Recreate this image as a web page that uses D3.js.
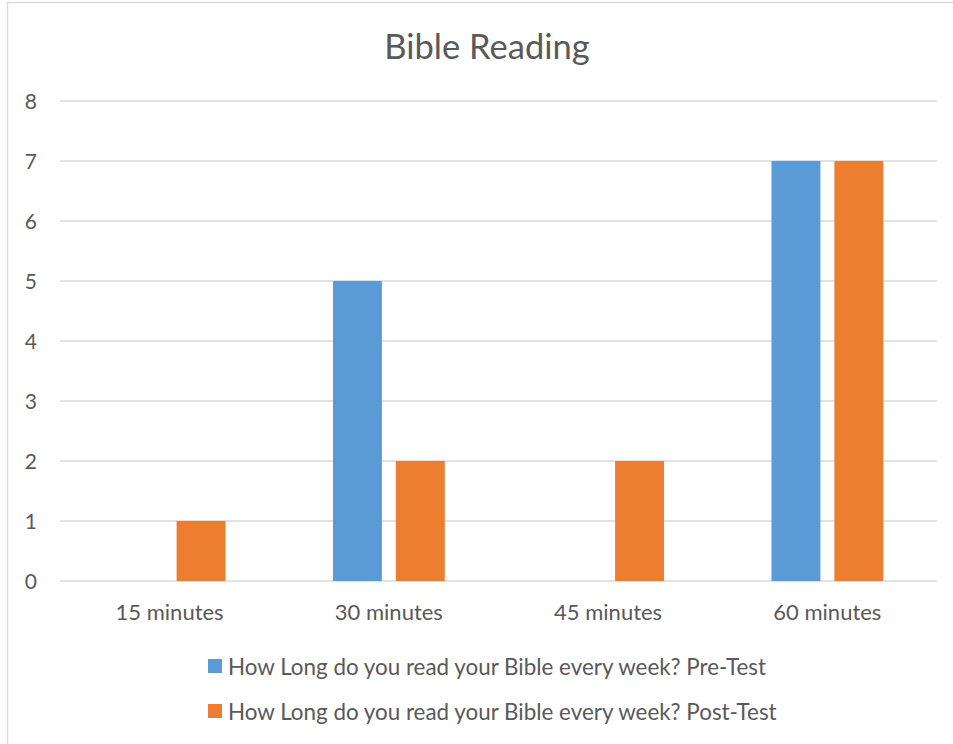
<!DOCTYPE html>
<html>
<head>
<meta charset="utf-8">
<script src="https://cdn.jsdelivr.net/npm/d3@7"></script>
<style>
  body { margin: 0; background: #fff; }
  text { font-family: Lato, "Open Sans", sans-serif; fill: #595959; }
</style>
</head>
<body>
<div id="viz"></div>
<script>
var categories = ["15 minutes", "30 minutes", "45 minutes", "60 minutes"];
var series = ["How Long do you read your Bible every week? Pre-Test", "How Long do you read your Bible every week? Post-Test"];
var preTest = [0, 5, 0, 7];
var postTest = [1, 2, 2, 7];
var yTicks = [0, 1, 2, 3, 4, 5, 6, 7, 8];

var color = ["#5B9BD5", "#ED7D31"];
var values = [preTest, postTest];

var width = 953, height = 744;
var svg = d3.select("#viz").append("svg").attr("width", width).attr("height", height);

// chart border (right and bottom run off the picture)
svg.append("rect")
    .attr("x", 7.5).attr("y", 2.5)
    .attr("width", 960).attr("height", 760)
    .attr("fill", "none")
    .attr("stroke", "#D9D9D9")
    .attr("stroke-width", 1.5);

var plotLeft = 60, plotRight = 937, plotTop = 101, plotBottom = 581;

var x = d3.scaleBand().domain(categories).range([plotLeft, plotRight]);
var bw = x.bandwidth();
var xInner = d3.scaleBand().domain([0, 1])
    .range([bw * 0.245, bw * 0.755])
    .paddingInner(0.222);

var y = d3.scaleLinear().domain([0, 8]).range([plotBottom, plotTop]);

// gridlines
svg.append("g").selectAll("line")
  .data(yTicks)
  .enter().append("line")
    .attr("x1", plotLeft).attr("x2", plotRight)
    .attr("y1", function(d){ return y(d); })
    .attr("y2", function(d){ return y(d); })
    .attr("stroke", "#D9D9D9")
    .attr("stroke-width", 1.3);

// y labels
svg.append("g").selectAll("text")
  .data(yTicks)
  .enter().append("text")
    .attr("x", 37)
    .attr("y", function(d){ return y(d); })
    .attr("dy", "0.38em")
    .attr("text-anchor", "end")
    .style("font-size", "21px")
    .text(function(d){ return d; });

// bars
values.forEach(function(vals, s){
  svg.append("g").selectAll("rect")
    .data(vals)
    .enter().append("rect")
      .attr("x", function(d, i){ return x(categories[i]) + xInner(s); })
      .attr("y", function(d){ return y(d); })
      .attr("width", xInner.bandwidth())
      .attr("height", function(d){ return y(0) - y(d); })
      .attr("fill", color[s]);
});

// x labels
svg.append("g").selectAll("text")
  .data(categories)
  .enter().append("text")
    .attr("x", function(d){ return x(d) + bw / 2; })
    .attr("y", 619.5)
    .attr("text-anchor", "middle")
    .style("font-size", "22px")
    .text(function(d){ return d; });

// title
svg.append("text")
    .attr("x", 487)
    .attr("y", 59)
    .attr("text-anchor", "middle")
    .style("font-size", "34.5px")
    .text("Bible Reading");

// legend
var legend = svg.append("g").selectAll("g")
  .data(series)
  .enter().append("g")
    .attr("transform", function(d, i){ return "translate(208," + (659 + i * 45) + ")"; });

legend.append("rect")
    .attr("width", 14).attr("height", 14)
    .attr("fill", function(d, i){ return color[i]; });

legend.append("text")
    .attr("x", 20)
    .attr("y", 15.5)
    .style("font-size", "22.4px")
    .text(function(d){ return d; });
</script>
</body>
</html>
